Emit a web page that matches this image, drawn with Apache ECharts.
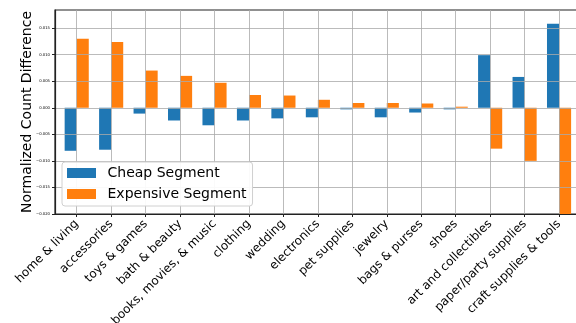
<!DOCTYPE html>
<html>
<head>
<meta charset="utf-8">
<script src="https://cdn.jsdelivr.net/npm/echarts@6/dist/echarts.min.js"></script>
<style>
  html, body { margin: 0; padding: 0; background: #fff; }
  #chart { width: 576px; height: 323px; }
</style>
</head>
<body>
<div id="chart"></div>
<script>
// Product categories along the x axis
const categories = [
  'home & living', 'accessories', 'toys & games', 'bath & beauty',
  'books, movies, & music', 'clothing', 'wedding', 'electronics',
  'pet supplies', 'jewelry', 'bags & purses', 'shoes',
  'art and collectibles', 'paper/party supplies', 'craft supplies & tools'
];

// Normalized count difference per category
const cheapValues = [
  -0.0081, -0.0079, -0.0011, -0.0024, -0.0033, -0.0024, -0.0020,
  -0.0018, -0.0003, -0.0018, -0.0009, -0.0003, 0.0099, 0.0058, 0.0158
];
const expensiveValues = [
  0.0130, 0.0124, 0.0070, 0.0060, 0.0047, 0.0024, 0.0023,
  0.0015, 0.0009, 0.0009, 0.0008, 0.0002, -0.0077, -0.0100, -0.0210
];

// Y tick values
const yTicks = [-0.020, -0.015, -0.010, -0.005, 0.000, 0.005, 0.010, 0.015];

const BAR_W = 0.35;
const COLORS = { cheap: '#1f77b4', expensive: '#ff7f0e' };

function barRenderer(offset, color) {
  return function (params, api) {
    const x = api.value(0);
    const v = api.value(1);
    const p0 = api.coord([x + offset, 0]);
    const p1 = api.coord([x + offset + BAR_W, v]);
    return {
      type: 'rect',
      shape: {
        x: p0[0],
        y: Math.min(p0[1], p1[1]),
        width: p1[0] - p0[0],
        height: Math.abs(p1[1] - p0[1])
      },
      style: { fill: color }
    };
  };
}

const idx = categories.map((_, i) => i);
const gridColor = 'rgba(170,170,170,0.8)';

const chart = echarts.init(document.getElementById('chart'), null, { renderer: 'canvas' });
chart.setOption({
  animation: false,
  backgroundColor: '#fff',
  textStyle: { fontFamily: 'DejaVu Sans' },
  grid: {
    left: 55, right: -2, top: 10, bottom: 109,
    outerBoundsMode: 'none',
    containLabel: false,
    show: true, borderColor: '#222', borderWidth: 1.2, backgroundColor: 'transparent'
  },
  xAxis: {
    type: 'value',
    min: -0.63, max: 14.55,
    z: 3,
    axisLine: { show: true, onZero: false, lineStyle: { color: '#222', width: 1.2 } },
    axisTick: { show: true, length: 3, customValues: idx, lineStyle: { color: '#222' } },
    splitLine: { show: true, lineStyle: { color: gridColor, width: 1 } },
    axisLabel: {
      customValues: idx,
      rotate: 45,
      fontSize: 12,
      color: '#000',
      margin: 8,
      formatter: v => categories[Math.round(v)]
    }
  },
  yAxis: {
    type: 'value',
    min: -0.020, max: 0.0184,
    z: 3,
    axisLine: { show: true, onZero: false, lineStyle: { color: '#222', width: 1.2 } },
    axisTick: { show: true, length: 3, customValues: yTicks, lineStyle: { color: '#222' } },
    splitLine: { show: true, lineStyle: { color: gridColor, width: 1 } },
    axisLabel: {
      customValues: yTicks,
      fontSize: 3.8,
      color: '#000',
      margin: 5,
      formatter: v => (v < 0 ? '\u2212' : '') + Math.abs(v).toFixed(3)
    },
    name: 'Normalized Count Difference',
    nameLocation: 'middle',
    nameGap: 21,
    nameMoveOverlap: false,
    nameTextStyle: { fontSize: 14, color: '#000', fontFamily: 'DejaVu Sans' }
  },
  legend: {
    orient: 'vertical',
    left: 62, top: 162,
    padding: [4, 6, 5, 5],
    itemWidth: 29, itemHeight: 10, itemGap: 7,
    backgroundColor: 'rgba(255,255,255,0.92)',
    borderColor: '#d0d0d0', borderWidth: 1, borderRadius: 3,
    z: 10,
    textStyle: { fontSize: 14, color: '#000', lineHeight: 14, padding: [0, 0, 0, 6.5], fontFamily: 'DejaVu Sans' },
    data: [
      { name: 'Cheap Segment', icon: 'rect', itemStyle: { color: COLORS.cheap } },
      { name: 'Expensive Segment', icon: 'rect', itemStyle: { color: COLORS.expensive } }
    ]
  },
  series: [
    {
      name: 'Cheap Segment',
      type: 'custom',
      clip: true,
      z: 2,
      itemStyle: { color: COLORS.cheap },
      renderItem: barRenderer(-BAR_W, COLORS.cheap),
      encode: { x: 0, y: 1 },
      data: cheapValues.map((v, i) => [i, v])
    },
    {
      name: 'Expensive Segment',
      type: 'custom',
      clip: true,
      z: 2,
      itemStyle: { color: COLORS.expensive },
      renderItem: barRenderer(0, COLORS.expensive),
      encode: { x: 0, y: 1 },
      data: expensiveValues.map((v, i) => [i, v])
    }
  ]
});
</script>
</body>
</html>
